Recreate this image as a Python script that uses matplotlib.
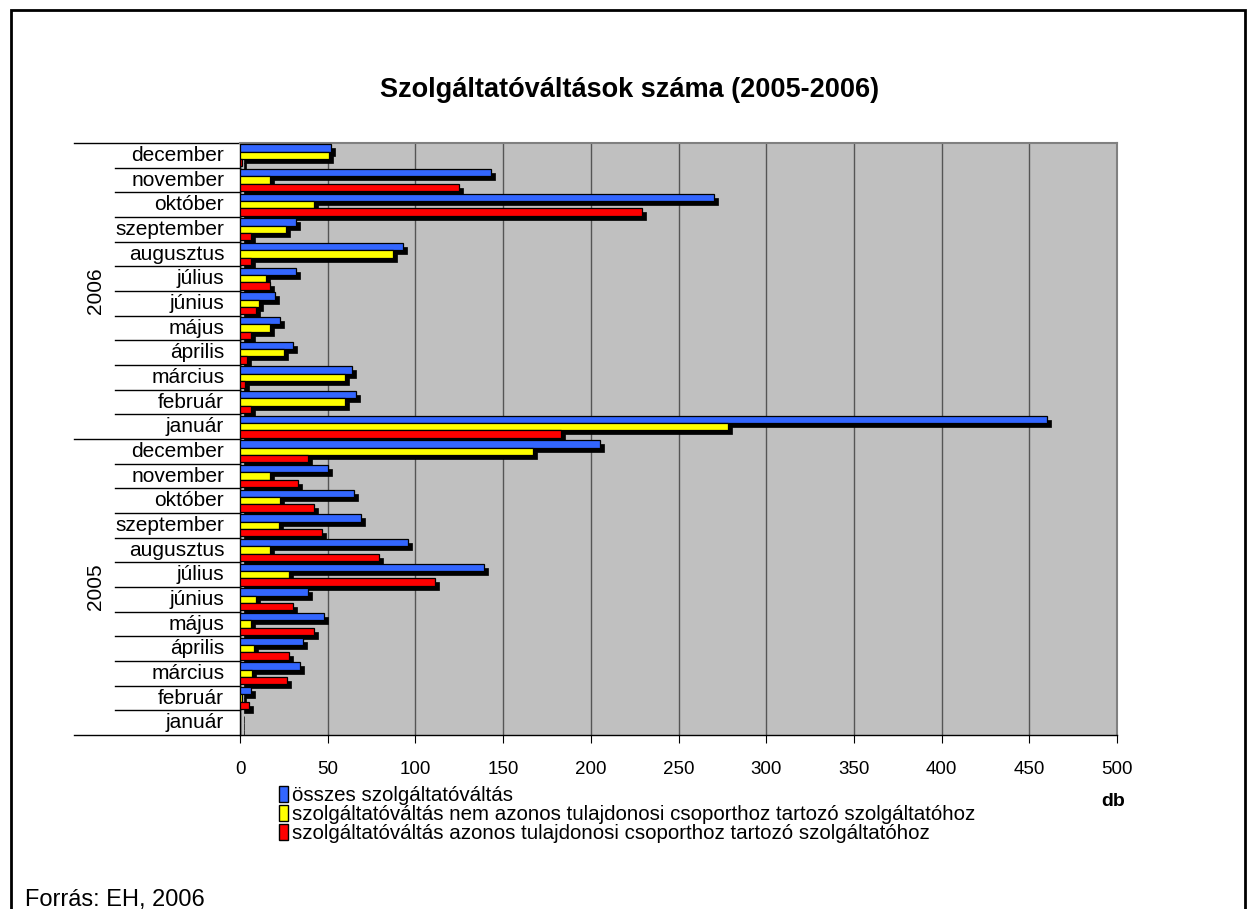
import matplotlib.pyplot as plt
import matplotlib.transforms as mtransforms
from matplotlib.patches import Patch, Rectangle
import numpy as np

plt.rcParams["font.family"] = ["Liberation Sans", "DejaVu Sans"]

# months, bottom to top: 2005 jan ... 2006 dec
months = ["január", "február", "március", "április", "május", "június",
          "július", "augusztus", "szeptember", "október", "november", "december"]
labels = months + months

osszes_2005 = [0, 6, 34, 36, 48, 39, 139, 96, 69, 65, 50, 205]
nem_azonos_2005 = [0, 1, 7, 8, 6, 9, 28, 17, 22, 23, 17, 167]
azonos_2005 = [0, 5, 27, 28, 42, 30, 111, 79, 47, 42, 33, 39]

osszes_2006 = [460, 66, 64, 30, 23, 20, 32, 93, 32, 270, 143, 52]
nem_azonos_2006 = [278, 60, 60, 25, 17, 11, 15, 87, 26, 42, 17, 51]
azonos_2006 = [183, 6, 3, 4, 6, 9, 17, 6, 6, 229, 125, 1]

series = [
    ("összes szolgáltatóváltás", osszes_2005 + osszes_2006, "#3366FF"),
    ("szolgáltatóváltás nem azonos tulajdonosi csoporthoz tartozó szolgáltatóhoz",
     nem_azonos_2005 + nem_azonos_2006, "#FFFF00"),
    ("szolgáltatóváltás azonos tulajdonosi csoporthoz tartozó szolgáltatóhoz",
     azonos_2005 + azonos_2006, "#FF0000"),
]

W, H = 1247, 909
fig = plt.figure(figsize=(W / 100, H / 100), dpi=100)

# outer frame
fig.patches.append(Rectangle((11 / W, -0.01), (W - 13) / W, (H - 10) / H + 0.01,
                             transform=fig.transFigure, fill=False,
                             edgecolor="black", linewidth=2))

ax = fig.add_axes([240 / W, (H - 735) / H, 877 / W, 592 / H])
ax.set_facecolor("#C0C0C0")

y = np.arange(len(labels))
h = 0.3
offsets = [h, 0, -h]
shadow = mtransforms.offset_copy(ax.transData, fig=fig, x=4, y=-4, units="dots")

for (name, vals, col), off in zip(series, offsets):
    bars = ax.barh(y + off, vals, height=h, color="black", edgecolor="black",
                   linewidth=0.5, zorder=2)
    for b in bars:
        b.set_transform(shadow)
    ax.barh(y + off, vals, height=h, color=col, edgecolor="black",
            linewidth=0.9, zorder=3)

ax.set_xlim(0, 500)
ax.set_ylim(-0.5, len(labels) - 0.5)
ax.set_xticks(np.arange(0, 501, 50))
ax.tick_params(axis="x", direction="out", length=6, labelsize=13.5, pad=13)
ax.xaxis.grid(True, color="#555555", linewidth=1, zorder=1)
ax.set_axisbelow(True)

ax.set_yticks([])
for s in ["top", "right"]:
    ax.spines[s].set_color("#808080")
    ax.spines[s].set_linewidth(1.5)
for s in ["left", "bottom"]:
    ax.spines[s].set_color("black")
    ax.spines[s].set_linewidth(1)

# category labels and separator lines
trans = mtransforms.blended_transform_factory(ax.transAxes, ax.transData)
x_month = (115 - 240) / 877
x_year = (74 - 240) / 877
for i, lab in enumerate(labels):
    ax.text(-0.018, i, lab, transform=trans, ha="right", va="center", fontsize=15)
for b in range(len(labels) + 1):
    xs = x_year if b % 12 == 0 else x_month
    ax.plot([xs, 0], [b - 0.5, b - 0.5], transform=trans, color="black",
            linewidth=1, clip_on=False)

ax.text((95 - 240) / 877, 5.5, "2005", transform=trans, rotation=90,
        ha="center", va="center", fontsize=15)
ax.text((95 - 240) / 877, 17.5, "2006", transform=trans, rotation=90,
        ha="center", va="center", fontsize=15)

fig.text(630 / W, 1 - 90 / H, "Szolgáltatóváltások száma (2005-2006)",
         ha="center", va="center", fontsize=19.5, fontweight="bold")
fig.text(1113 / W, 1 - 801 / H, "db", ha="center", va="center",
         fontsize=14, fontweight="bold")
fig.text(25 / W, 1 - 900 / H, "Forrás: EH, 2006", ha="left", va="center", fontsize=17)

handles = [Patch(facecolor=c, edgecolor="black", linewidth=1) for _, _, c in series]
fig.legend(handles, [n for n, _, _ in series], loc="upper left",
           bbox_to_anchor=(279 / W, 1 - 786 / H), frameon=False, fontsize=14.8,
           handlelength=0.45, handleheight=0.8, handletextpad=0.2,
           labelspacing=0.0, borderpad=0, borderaxespad=0)

fig.savefig("out.png", dpi=100)
